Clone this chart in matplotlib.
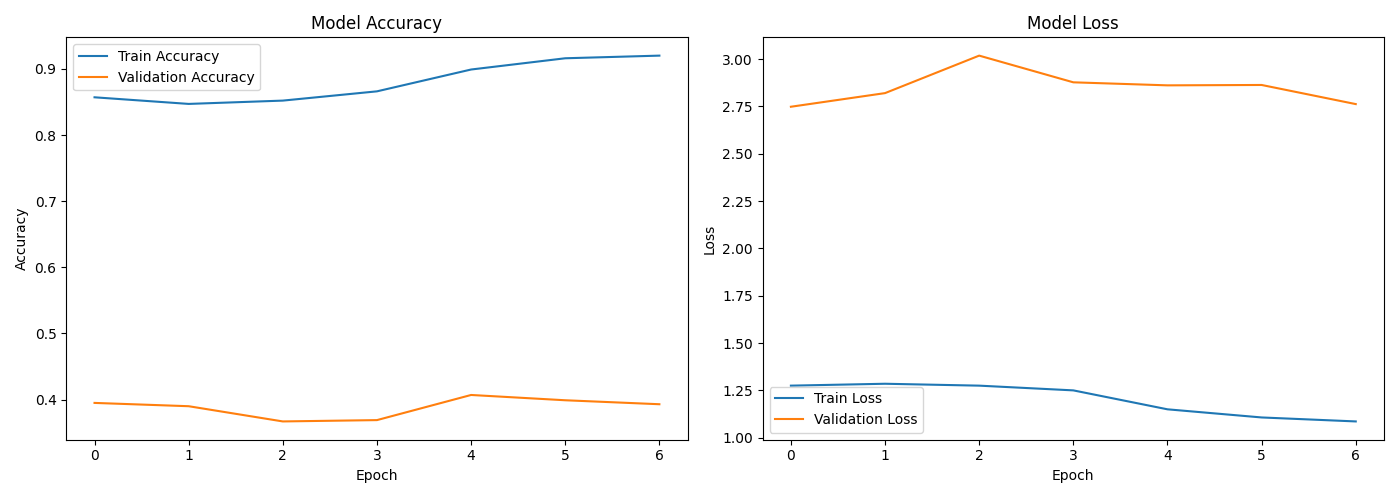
import matplotlib
matplotlib.use("Agg")
import matplotlib.pyplot as plt

epochs = [0, 1, 2, 3, 4, 5, 6]
train_acc = [0.857, 0.847, 0.852, 0.866, 0.899, 0.916, 0.920]
val_acc = [0.395, 0.390, 0.367, 0.369, 0.407, 0.399, 0.393]
train_loss = [1.275, 1.285, 1.275, 1.250, 1.150, 1.107, 1.086]
val_loss = [2.748, 2.820, 3.018, 2.877, 2.861, 2.863, 2.762]

plt.figure(figsize=(13.99, 4.98))

plt.subplot(1, 2, 1)
plt.plot(epochs, train_acc, label="Train Accuracy")
plt.plot(epochs, val_acc, label="Validation Accuracy")
plt.title("Model Accuracy")
plt.xlabel("Epoch")
plt.ylabel("Accuracy")
plt.legend()

plt.subplot(1, 2, 2)
plt.plot(epochs, train_loss, label="Train Loss")
plt.plot(epochs, val_loss, label="Validation Loss")
plt.title("Model Loss")
plt.xlabel("Epoch")
plt.ylabel("Loss")
plt.legend()

plt.tight_layout()
plt.savefig("out.png", dpi=100)
